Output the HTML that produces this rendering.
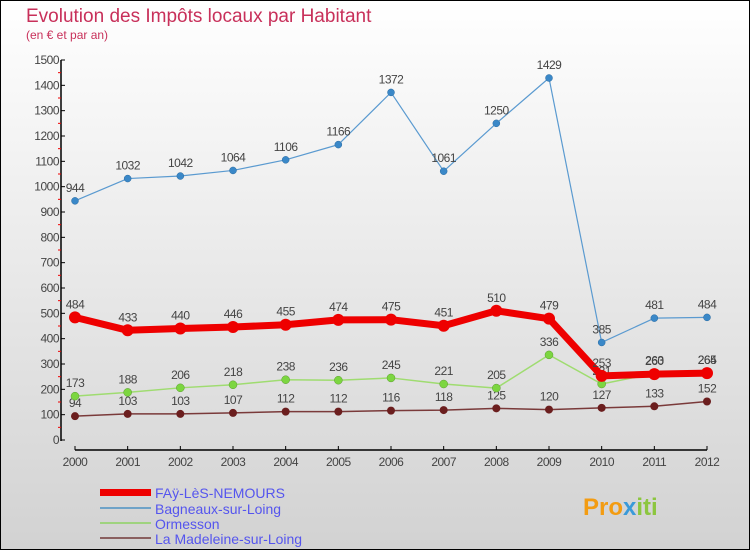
<!DOCTYPE html>
<html><head><meta charset="utf-8"><style>
body{margin:0}
svg{display:block;font-family:"Liberation Sans",sans-serif}
</style></head><body>
<svg id="c" width="750" height="550" viewBox="0 0 750 550">
<defs><linearGradient id="bg" x1="0" y1="0" x2="0" y2="1"><stop offset="0" stop-color="#ffffff"/><stop offset="1" stop-color="#d2d2d2"/></linearGradient></defs>
<rect x="0.5" y="0.5" width="749" height="549" fill="url(#bg)" stroke="#000"/>
<text x="26" y="22" font-size="19" fill="#c8305a">Evolution des Impôts locaux par Habitant</text>
<text x="26" y="39" font-size="12" fill="#c8305a">(en € et par an)</text>
<g id="axes"></g><g id="series"></g>
<g>
<rect x="100" y="489" width="51" height="7" fill="#e00"/>
<text x="155" y="498" font-size="14" fill="#5555ee">FAÿ-LèS-NEMOURS</text>
<rect x="100" y="507" width="51" height="2" fill="#6fa3c8"/>
<text x="155" y="514" font-size="14" fill="#5555ee">Bagneaux-sur-Loing</text>
<rect x="100" y="522" width="51" height="2" fill="#9fd37f"/>
<text x="155" y="529" font-size="14" fill="#5555ee">Ormesson</text>
<rect x="100" y="537" width="51" height="2" fill="#8a6060"/>
<text x="155" y="544" font-size="14" fill="#5555ee">La Madeleine-sur-Loing</text>
</g>
<text x="583" y="515" font-size="24" font-weight="bold" fill="#f39c12">Pro<tspan fill="#3a9ad9">x</tspan><tspan fill="#8cc63f">iti</tspan></text>
</svg>
<script>
const years=[2000,2001,2002,2003,2004,2005,2006,2007,2008,2009,2010,2011,2012];
const yTicks=[0,100,200,300,400,500,600,700,800,900,1000,1100,1200,1300,1400,1500];
const fay=[484,433,440,446,455,474,475,451,510,479,253,260,264];
const bagneaux=[944,1032,1042,1064,1106,1166,1372,1061,1250,1429,385,481,484];
const ormesson=[173,188,206,218,238,236,245,221,205,336,221,263,265];
const madeleine=[94,103,103,107,112,112,116,118,125,120,127,133,152];
const NS='http://www.w3.org/2000/svg';
const X=i=>75+i*(632/12);
const Y=v=>440-v*(380/1500);
function mk(t,a,p){const e=document.createElementNS(NS,t);for(const k in a)e.setAttribute(k,a[k]);p.appendChild(e);return e;}
const ax=document.getElementById('axes');
let e=mk('line',{x1:61,y1:60,x2:61,y2:441,stroke:'#000','stroke-width':1.5},ax);


yTicks.forEach((v,i)=>{
 mk('line',{x1:61,y1:Y(v),x2:65,y2:Y(v),stroke:'#000'},ax);
 if(i<yTicks.length-1)mk('line',{x1:58,y1:Y(v+50),x2:61,y2:Y(v+50),stroke:'#e00'},ax);
 const t=mk('text',{x:59,y:Y(v)+4,'font-size':12,fill:'#444','text-anchor':'end','letter-spacing':'-0.5'},ax);
 t.textContent=v;
 
 
});
e=mk('line',{x1:75,y1:450,x2:707,y2:450,stroke:'#000','stroke-width':1.5},ax);


years.forEach((y,i)=>{
 mk('line',{x1:X(i),y1:446,x2:X(i),y2:450,stroke:'#000'},ax);
 const t=mk('text',{x:X(i),y:466,'font-size':12,fill:'#444','text-anchor':'middle','letter-spacing':'-0.5'},ax);
 t.textContent=y;
 
 
});
const sg=document.getElementById('series');
function series(name,vals,color,w,r,fill,stroke,sw){
 const g=mk('g',{},sg);
 
 
 const l=mk('polyline',{points:vals.map((v,i)=>X(i)+','+Y(v)).join(' '),fill:'none',stroke:color,'stroke-width':w,'stroke-linejoin':'round'},g);
 
 
 vals.forEach((v,i)=>{
  const c=mk('circle',{cx:X(i),cy:Y(v),r:r,fill:fill,stroke:stroke,'stroke-width':sw},g);
  
  
  const t=mk('text',{x:X(i),y:Y(v)-9,'font-size':12,fill:'#444','text-anchor':'middle','letter-spacing':'-0.5'},g);
  t.textContent=v;
  
  
 });
}
series('madeleine',madeleine,'#7a3a3a',1.5,4,'#6b1e1e','none',0);
series('ormesson',ormesson,'#9fdc70',1.5,4,'#7cd640','#5a9a30',0.5);
series('bagneaux',bagneaux,'#5a9ad0',1.2,3.5,'#3a88c8','#2a6aa0',0.5);
series('fay',fay,'#ee0000',7,6,'#ee0000','none',0);
</script>
</body></html>
